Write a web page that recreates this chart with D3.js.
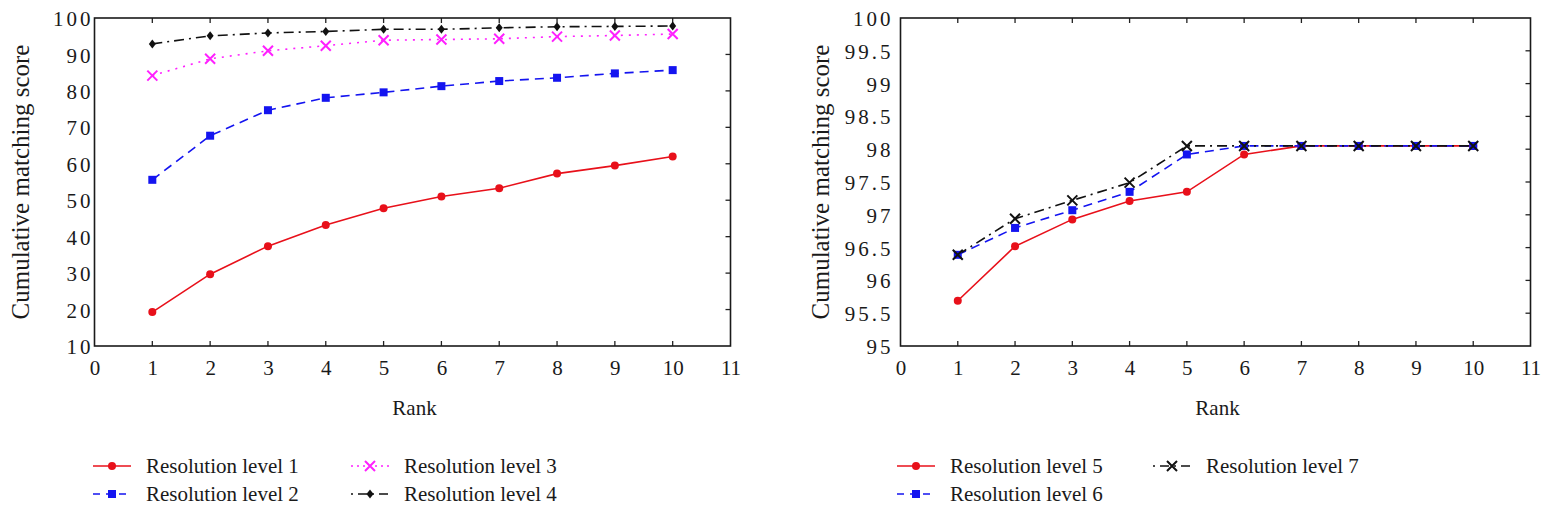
<!DOCTYPE html>
<html><head><meta charset="utf-8">
<script src="https://cdn.jsdelivr.net/npm/d3@7"></script>
<style>
html,body{margin:0;padding:0;background:#fff;}
svg{display:block;}
</style></head>
<body>
<svg id="chart" width="1549" height="516"></svg>
<script>
const ranks = [1,2,3,4,5,6,7,8,9,10];
const xTicks = [0,1,2,3,4,5,6,7,8,9,10,11];
const leftYTicks = [10,20,30,40,50,60,70,80,90,100];
const rightYTicks = [95,95.5,96,96.5,97,97.5,98,98.5,99,99.5,100];

const level1 = [19.3,29.7,37.4,43.2,47.8,51.0,53.3,57.3,59.5,62.0];
const level2 = [55.6,67.7,74.7,78.1,79.6,81.3,82.7,83.6,84.8,85.7];
const level3 = [84.2,88.8,91.0,92.4,93.9,94.1,94.3,94.9,95.2,95.6];
const level4 = [92.9,95.1,95.9,96.3,96.9,96.9,97.3,97.6,97.7,97.8];
const level5 = [95.69,96.52,96.93,97.21,97.35,97.92,98.05,98.05,98.05,98.05];
const level6 = [96.39,96.80,97.07,97.35,97.92,98.05,98.05,98.05,98.05,98.05];
const level7 = [96.39,96.94,97.22,97.49,98.05,98.05,98.05,98.05,98.05,98.05];

const leftNames = ["Resolution level 1","Resolution level 2","Resolution level 3","Resolution level 4"];
const rightNames = ["Resolution level 5","Resolution level 6","Resolution level 7"];

const yLabel = "Cumulative matching score";
const xLabel = "Rank";

const FONT = "'Liberation Serif', 'Times New Roman', Times, 'DejaVu Serif', serif";
const RED="#e8101a", BLUE="#1414f0", MAG="#ff20ff", BLK="#111";
const styles = {
  circle:{color:RED, dash:null, ldash:null, marker:"circle"},
  square:{color:BLUE, dash:"9,6", ldash:"7,6", marker:"square"},
  cross:{color:MAG, dash:"2,6", ldash:"2,4", marker:"x"},
  diamond:{color:BLK, dash:"10,5,2,5", ldash:"2,5,9,5", marker:"diamond"},
  xblack:{color:BLK, dash:"10,5,2,5", ldash:"2,5,9,5", marker:"x"}
};

const svg = d3.select("#chart");

function drawMarker(g, type, color, x, y){
  if(type==="circle"){
    g.append("circle").attr("cx",x).attr("cy",y).attr("r",4).attr("fill",color);
  } else if(type==="square"){
    g.append("rect").attr("x",x-4).attr("y",y-4).attr("width",8).attr("height",8).attr("fill",color);
  } else if(type==="diamond"){
    g.append("path").attr("d",`M${x},${y-4.5}L${x+3.5},${y}L${x},${y+4.5}L${x-3.5},${y}Z`).attr("fill",color);
  } else if(type==="x"){
    const s=5;
    g.append("path").attr("d",`M${x-s},${y-s}L${x+s},${y+s}M${x-s},${y+s}L${x+s},${y-s}`)
      .attr("stroke",color).attr("stroke-width",2).attr("fill","none");
  }
}

function panel(opt){
  const x = d3.scaleLinear().domain([0,11]).range([opt.x0,opt.x1]);
  const y = d3.scaleLinear().domain(opt.yDomain).range([opt.y1,opt.y0]);
  const g = svg.append("g");
  const tl = 5;
  const bottom = g.append("g").attr("transform",`translate(0,${opt.y1})`)
    .call(d3.axisBottom(x).tickValues(xTicks).tickSize(0).tickPadding(0).tickFormat(d3.format("d")));
  bottom.select(".domain").remove();
  bottom.attr("font-family",FONT).attr("font-size",21);
  bottom.selectAll("text").attr("font-family",FONT).attr("font-size",21).attr("fill","#1a1a1a").attr("y",29).attr("dy",0);
  g.selectAll(".tb").data(ranks).enter().append("line")
    .attr("x1",d=>x(d)).attr("x2",d=>x(d)).attr("y1",opt.y1).attr("y2",opt.y1-tl)
    .attr("stroke","#222").attr("stroke-width",1.3);
  g.selectAll(".tt").data(ranks).enter().append("line")
    .attr("x1",d=>x(d)).attr("x2",d=>x(d)).attr("y1",opt.y0).attr("y2",opt.y0+tl)
    .attr("stroke","#222").attr("stroke-width",1.3);
  const left = g.append("g").attr("transform",`translate(${opt.x0},0)`)
    .call(d3.axisLeft(y).tickValues(opt.yTicks).tickSize(0).tickPadding(opt.ypad).tickFormat(d=>String(d)));
  left.select(".domain").remove();
  left.attr("font-family",FONT).attr("font-size",21);
  left.selectAll("text").attr("font-family",FONT).attr("font-size",21).attr("fill","#1a1a1a")
    .attr("letter-spacing","3px").attr("dx","3px").attr("dy","0.36em");
  g.selectAll(".tr").data(opt.yTicks.slice(1,-1)).enter().append("line")
    .attr("x1",opt.x1).attr("x2",opt.x1-tl).attr("y1",d=>y(d)).attr("y2",d=>y(d))
    .attr("stroke","#222").attr("stroke-width",1.3);
  g.append("rect").attr("x",opt.x0).attr("y",opt.y0).attr("width",opt.x1-opt.x0).attr("height",opt.y1-opt.y0)
    .attr("fill","none").attr("stroke","#1a1a1a").attr("stroke-width",1.6);
  const line = d3.line().x((d,i)=>x(ranks[i])).y(d=>y(d));
  opt.series.forEach(s=>{
    const st = styles[s.style];
    g.append("path").attr("d",line(s.values)).attr("fill","none").attr("stroke",st.color)
      .attr("stroke-width",1.6).attr("stroke-dasharray",st.dash);
  });
  opt.series.forEach(s=>{
    const st = styles[s.style];
    s.values.forEach((v,i)=>drawMarker(g,st.marker,st.color,x(ranks[i]),y(v)));
  });
  g.append("text").attr("x",(opt.x0+opt.x1)/2+2).attr("y",415).attr("text-anchor","middle")
    .attr("font-family",FONT).attr("fill","#1a1a1a").attr("font-size",21).text(xLabel);
  g.append("text").attr("transform",`translate(${opt.ylx},${(opt.y0+opt.y1)/2}) rotate(-90)`)
    .attr("text-anchor","middle").attr("font-family",FONT).attr("fill","#1a1a1a").attr("font-size",25).text(yLabel);
  opt.legend.forEach(L=>{
    const st = styles[L.style];
    g.append("line").attr("x1",L.lx).attr("x2",L.lx+38).attr("y1",L.ly).attr("y2",L.ly)
      .attr("stroke",st.color).attr("stroke-width",1.6).attr("stroke-dasharray",st.ldash);
    drawMarker(g,st.marker,st.color,L.lx+19,L.ly);
    g.append("text").attr("x",L.lx+53).attr("y",L.ly+7).attr("font-family",FONT).attr("fill","#1a1a1a")
      .attr("font-size",21).text(L.name);
  });
}

panel({
  x0:94.5,x1:730.5,y0:18,y1:346,yDomain:[10,100],yTicks:leftYTicks,ypad:4,ylx:29,
  series:[
    {values:level1,style:"circle"},
    {values:level2,style:"square"},
    {values:level3,style:"cross"},
    {values:level4,style:"diamond"}
  ],
  legend:[
    {name:leftNames[0],style:"circle",lx:93,ly:466},
    {name:leftNames[1],style:"square",lx:93,ly:494},
    {name:leftNames[2],style:"cross",lx:351,ly:466},
    {name:leftNames[3],style:"diamond",lx:351,ly:494}
  ]
});
panel({
  x0:900.5,x1:1530.5,y0:18,y1:346,yDomain:[95,100],yTicks:rightYTicks,ypad:10,ylx:829,
  series:[
    {values:level5,style:"circle"},
    {values:level6,style:"square"},
    {values:level7,style:"xblack"}
  ],
  legend:[
    {name:rightNames[0],style:"circle",lx:897,ly:466},
    {name:rightNames[1],style:"square",lx:897,ly:494},
    {name:rightNames[2],style:"xblack",lx:1153,ly:466}
  ]
});
</script>
</body></html>
